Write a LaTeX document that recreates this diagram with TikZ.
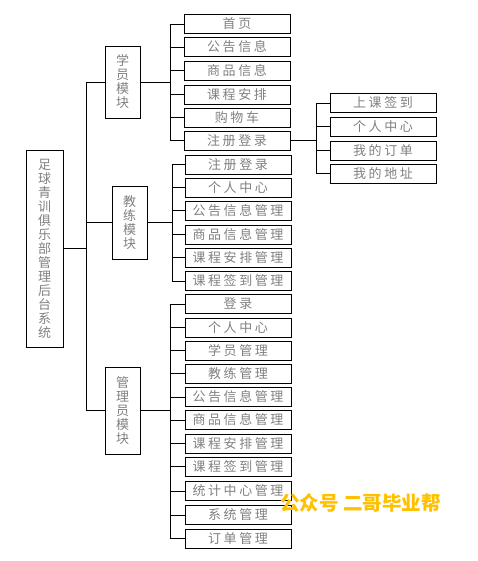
\documentclass[tikz,border=0pt]{standalone}
\usepackage{fontspec}
\usepackage{tikz}
\newfontfamily\cjk[LetterSpace=20]{Noto Sans CJK SC}
\newfontfamily\cjkmark{Noto Sans CJK SC}
\definecolor{markgold}{RGB}{255,192,0}

\tikzset{
  box/.style={draw, line width=0.9pt, inner sep=0pt, text=gray, font=\cjk\fontsize{13}{14}\selectfont},
  leaf/.style={box, minimum width=106pt, minimum height=19pt},
  modbox/.style={box, minimum width=35pt, align=center},
  link/.style={line width=0.9pt}
}

\begin{document}
\begin{tikzpicture}[x=1pt, y=-1pt]
  \useasboundingbox (0,0) rectangle (478,561);
  % root and modules
  \node[modbox, minimum width=37pt, minimum height=197pt] (root) at (44.5,248.5) {足\\球\\青\\训\\俱\\乐\\部\\管\\理\\后\\台\\系\\统};
  \node[modbox, minimum height=72pt] (stu) at (122.5,82) {学\\员\\模\\块};
  \node[modbox, minimum height=73pt] (coa) at (129.5,222.5) {教\\练\\模\\块};
  \node[modbox, minimum height=87pt] (adm) at (122.5,410.5) {管\\理\\员\\模\\块};

  % student leaves
  \node[leaf] (s1) at (237,24) {首页};
  \node[leaf] (s2) at (237,47) {公告信息};
  \node[leaf] (s3) at (237,70.5) {商品信息};
  \node[leaf] (s4) at (237,94.5) {课程安排};
  \node[leaf] (s5) at (237,117.5) {购物车};
  \node[leaf] (s6) at (237,140.5) {注册登录};

  % under 注册登录
  \node[leaf] (r1) at (383,103) {上课签到};
  \node[leaf] (r2) at (383,126.5) {个人中心};
  \node[leaf] (r3) at (383,150.5) {我的订单};
  \node[leaf] (r4) at (383,173.5) {我的地址};

  % coach leaves
  \node[leaf] (c1) at (238,164.5) {注册登录};
  \node[leaf] (c2) at (238,187.5) {个人中心};
  \node[leaf] (c3) at (238,210.5) {公告信息管理};
  \node[leaf] (c4) at (238,234.5) {商品信息管理};
  \node[leaf] (c5) at (238,257.5) {课程安排管理};
  \node[leaf] (c6) at (238,281) {课程签到管理};

  % admin leaves
  \node[leaf] (a1) at (238,304) {登录};
  \node[leaf] (a2) at (238,327.5) {个人中心};
  \node[leaf] (a3) at (238,350.5) {学员管理};
  \node[leaf] (a4) at (238,373.5) {教练管理};
  \node[leaf] (a5) at (238,397) {公告信息管理};
  \node[leaf] (a6) at (238,420) {商品信息管理};
  \node[leaf] (a7) at (238,443.5) {课程安排管理};
  \node[leaf] (a8) at (238,466.5) {课程签到管理};
  \node[leaf] (a9) at (238,491) {统计中心管理};
  \node[leaf] (a10) at (238,515) {系统管理};
  \node[leaf] (a11) at (238,538.5) {订单管理};

  % bus points
  \coordinate (trunk) at (86.7,248.5);
  \coordinate (sbus) at (170,82);
  \coordinate (cbus) at (172,222.5);
  \coordinate (abus) at (170,410.5);
  \coordinate (rbus) at (316,140.5);

  \draw[link] (root.east) -- (trunk);
  \draw[link] (trunk) |- (stu.west);
  \draw[link] (trunk) |- (coa.west);
  \draw[link] (trunk) |- (adm.west);

  \draw[link] (stu.east) -- (sbus);
  \draw[link] (sbus) |- (s1.west);
  \draw[link] (sbus) |- (s2.west);
  \draw[link] (sbus) |- (s3.west);
  \draw[link] (sbus) |- (s4.west);
  \draw[link] (sbus) |- (s5.west);
  \draw[link] (sbus) |- (s6.west);

  \draw[link] (s6.east) -- (rbus);
  \draw[link] (rbus) |- (r1.west);
  \draw[link] (rbus) |- (r2.west);
  \draw[link] (rbus) |- (r3.west);
  \draw[link] (rbus) |- (r4.west);

  \draw[link] (coa.east) -- (cbus);
  \draw[link] (cbus) |- (c1.west);
  \draw[link] (cbus) |- (c2.west);
  \draw[link] (cbus) |- (c3.west);
  \draw[link] (cbus) |- (c4.west);
  \draw[link] (cbus) |- (c5.west);
  \draw[link] (cbus) |- (c6.west);

  \draw[link] (adm.east) -- (abus);
  \draw[link] (abus) |- (a1.west);
  \draw[link] (abus) |- (a2.west);
  \draw[link] (abus) |- (a3.west);
  \draw[link] (abus) |- (a4.west);
  \draw[link] (abus) |- (a5.west);
  \draw[link] (abus) |- (a6.west);
  \draw[link] (abus) |- (a7.west);
  \draw[link] (abus) |- (a8.west);
  \draw[link] (abus) |- (a9.west);
  \draw[link] (abus) |- (a10.west);
  \draw[link] (abus) |- (a11.west);

  % watermark
  \node[text=markgold, font=\cjkmark\bfseries\fontsize{19.5}{20}\selectfont] (mark) at (360.5,503) {公众号 二哥毕业帮};
\end{tikzpicture}
\end{document}
